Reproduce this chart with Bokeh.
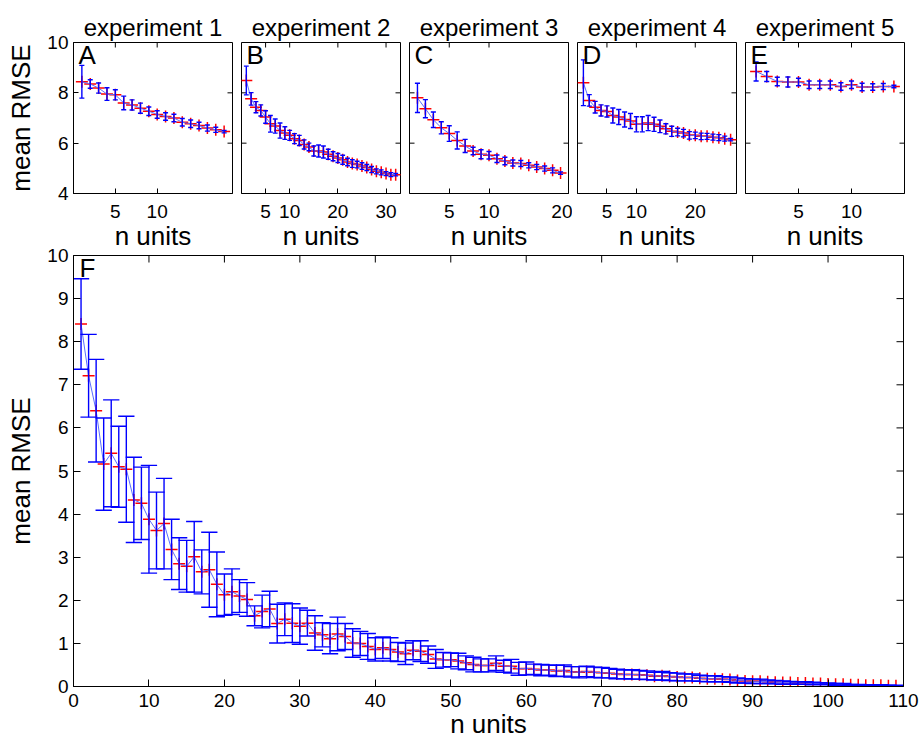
from math import pi
from bokeh.plotting import figure
from bokeh.models import Range1d, FixedTicker, Label, ColumnDataSource
from bokeh.layouts import column, row
from bokeh.embed import file_html
from bokeh.resources import INLINE

FONT = "Liberation Sans"

# ---- experiment 1 ----
exp1_mean = [8.44, 8.35, 8.19, 7.95, 7.92, 7.60, 7.52, 7.39, 7.27, 7.14, 7.06, 7.00,
             6.83, 6.77, 6.70, 6.60, 6.53, 6.46]
exp1_err = [0.65, 0.17, 0.20, 0.25, 0.20, 0.27, 0.20, 0.20, 0.17, 0.15, 0.15, 0.15,
            0.15, 0.15, 0.13, 0.12, 0.10, 0.05]

# ---- experiment 2 ----
exp2_mean = [8.49, 7.76, 7.43, 7.30, 7.04, 6.77, 6.68, 6.50, 6.40, 6.31, 6.18, 6.11,
             5.95, 5.85, 5.69, 5.69, 5.65, 5.56, 5.48, 5.41, 5.34, 5.25, 5.19, 5.15,
             5.09, 5.03, 4.95, 4.88, 4.84, 4.79, 4.75, 4.75]
exp2_err = [0.57, 0.25, 0.22, 0.22, 0.25, 0.33, 0.28, 0.30, 0.25, 0.20, 0.20, 0.20,
            0.18, 0.15, 0.20, 0.24, 0.24, 0.20, 0.18, 0.18, 0.18, 0.15, 0.15, 0.13,
            0.13, 0.12, 0.12, 0.10, 0.10, 0.08, 0.08, 0.05]

# ---- experiment 3 ----
exp3_mean = [7.80, 7.37, 6.93, 6.61, 6.38, 6.11, 5.89, 5.69, 5.56, 5.52, 5.38, 5.29,
             5.21, 5.19, 5.12, 5.05, 4.99, 4.92, 4.81]
exp3_err = [0.58, 0.36, 0.31, 0.24, 0.31, 0.34, 0.26, 0.15, 0.18, 0.15, 0.15, 0.15,
            0.12, 0.12, 0.10, 0.10, 0.10, 0.10, 0.05]

# ---- experiment 4 ----
exp4_mean = [8.40, 7.70, 7.43, 7.30, 7.26, 7.10, 7.04, 6.94, 6.88, 6.75, 6.75, 6.80,
             6.75, 6.67, 6.57, 6.47, 6.44, 6.40, 6.31, 6.31, 6.27, 6.27, 6.24, 6.22,
             6.18, 6.14]
exp4_err = [0.91, 0.23, 0.23, 0.22, 0.22, 0.30, 0.30, 0.30, 0.30, 0.30, 0.30, 0.30,
            0.28, 0.25, 0.20, 0.20, 0.15, 0.15, 0.15, 0.13, 0.13, 0.12, 0.12, 0.12,
            0.10, 0.05]

# ---- experiment 5 ----
exp5_mean = [8.85, 8.65, 8.45, 8.43, 8.43, 8.32, 8.32, 8.32, 8.25, 8.32, 8.23, 8.23,
             8.25, 8.25]
exp5_err = [0.38, 0.20, 0.17, 0.20, 0.15, 0.15, 0.15, 0.15, 0.15, 0.15, 0.15, 0.13,
            0.12, 0.05]

# ---- pooled (panel F) ----
pooled_mean = [8.41, 7.21, 6.40, 5.16, 5.41, 5.10, 5.04, 4.33, 4.25, 3.88,
               3.62, 3.78, 3.18, 2.85, 2.79, 3.01, 2.66, 2.71, 2.37, 2.13,
               2.20, 2.10, 2.02, 1.64, 1.74, 1.80, 1.46, 1.56, 1.47, 1.40,
               1.47, 1.24, 1.20, 1.11, 1.22, 1.16, 1.01, 1.00, 0.93, 0.86,
               0.90, 0.86, 0.80, 0.76, 0.84, 0.82, 0.74, 0.64, 0.62, 0.62,
               0.59, 0.55, 0.51, 0.49, 0.49, 0.54, 0.47, 0.47, 0.41, 0.42,
               0.40, 0.38, 0.38, 0.36, 0.37, 0.34, 0.33, 0.35, 0.33, 0.32,
               0.31, 0.29, 0.28, 0.28, 0.27, 0.26, 0.24, 0.25, 0.23, 0.22,
               0.21, 0.21, 0.19, 0.18, 0.18, 0.17, 0.16, 0.14, 0.13, 0.12,
               0.12, 0.11, 0.10, 0.09, 0.09, 0.08, 0.08, 0.07, 0.07, 0.06,
               0.05, 0.05, 0.04, 0.04, 0.03, 0.03, 0.03, 0.02, 0.02]
pooled_err = [1.05, 0.96, 1.19, 1.07, 1.24, 0.94, 1.23, 0.99, 0.84, 1.25,
              0.89, 1.05, 0.70, 0.60, 0.60, 0.82, 0.51, 0.87, 0.75, 0.48,
              0.53, 0.38, 0.39, 0.23, 0.38, 0.41, 0.45, 0.38, 0.45, 0.42,
              0.30, 0.40, 0.28, 0.35, 0.39, 0.30, 0.33, 0.28, 0.30, 0.27,
              0.25, 0.27, 0.22, 0.25, 0.22, 0.24, 0.20, 0.22, 0.17, 0.16,
              0.18, 0.16, 0.17, 0.15, 0.15, 0.17, 0.14, 0.16, 0.15, 0.15,
              0.12, 0.13, 0.12, 0.13, 0.13, 0.12, 0.13, 0.12, 0.12, 0.12,
              0.11, 0.11, 0.10, 0.11, 0.10, 0.10, 0.09, 0.10, 0.09, 0.09,
              0.08, 0.08, 0.07, 0.07, 0.07, 0.06, 0.06, 0.06, 0.05, 0.05,
              0.05, 0.04, 0.04, 0.04, 0.03, 0.03, 0.03, 0.03, 0.02, 0.02,
              0.02, 0.02, 0.01, 0.01, 0.01, 0.01, 0.01, 0.01, 0.01]

TOP_YTICKS = [4, 6, 8, 10]
POOLED_XTICKS = list(range(0, 111, 10))
POOLED_YTICKS = list(range(0, 11))

panels = [
    dict(title="experiment 1", letter="A", mean=exp1_mean, err=exp1_err, xmax=19, xticks=[5, 10], tee=0.30),
    dict(title="experiment 2", letter="B", mean=exp2_mean, err=exp2_err, xmax=33, xticks=[5, 10, 20, 30], tee=0.50),
    dict(title="experiment 3", letter="C", mean=exp3_mean, err=exp3_err, xmax=20, xticks=[5, 10, 20], tee=0.32),
    dict(title="experiment 4", letter="D", mean=exp4_mean, err=exp4_err, xmax=27, xticks=[5, 10, 20], tee=0.43),
    dict(title="experiment 5", letter="E", mean=exp5_mean, err=exp5_err, xmax=15, xticks=[5, 10], tee=0.24),
]

TICK_PX = 19
LABEL_PX = 26


def style_axes(p, xticks, yticks, xr, yr, tick_len, show_y, tick_standoff, label_standoff):
    ax = p.xaxis[0]
    ax.ticker = FixedTicker(ticks=xticks)
    ax.major_tick_in = tick_len
    ax.major_tick_out = 0
    ax.minor_tick_line_color = None
    ax.major_label_text_font = FONT
    ax.major_label_text_font_size = f"{TICK_PX}px"
    ax.major_label_text_color = "black"
    ax.major_label_standoff = tick_standoff
    ax.axis_label = "n units"
    ax.axis_label_text_font = FONT
    ax.axis_label_text_font_size = f"{LABEL_PX}px"
    ax.axis_label_text_font_style = "normal"
    ax.axis_label_text_color = "black"
    ax.axis_label_standoff = label_standoff
    ax.axis_line_color = "black"
    ay = p.yaxis[0]
    if show_y:
        ay.ticker = FixedTicker(ticks=yticks)
        ay.major_tick_in = tick_len
        ay.major_tick_out = 0
        ay.minor_tick_line_color = None
        ay.axis_line_color = "black"
        ay.major_label_text_font = FONT
        ay.major_label_text_font_size = f"{TICK_PX}px"
        ay.major_label_text_color = "black"
        ay.major_label_standoff = 5
        ay.axis_label = "mean RMSE"
        ay.axis_label_text_font = FONT
        ay.axis_label_text_font_size = f"{LABEL_PX}px"
        ay.axis_label_text_font_style = "normal"
        ay.axis_label_text_color = "black"
        ay.axis_label_standoff = 8
    else:
        ay.visible = False
        # inward ticks on the left edge without labels
        p.ray(x=[xr[0]] * len(yticks), y=yticks, length=tick_len, length_units="screen",
              angle=0, line_color="black", line_width=1)
    # inward ticks on the top and right edges, without labels
    p.ray(x=xticks, y=[yr[1]] * len(xticks), length=tick_len, length_units="screen",
          angle=-pi / 2, line_color="black", line_width=1)
    p.ray(x=[xr[1]] * len(yticks), y=yticks, length=tick_len, length_units="screen",
          angle=pi, line_color="black", line_width=1)


def draw_series(p, mean, err, tee):
    xs = list(range(1, len(mean) + 1))
    lo = [m - e for m, e in zip(mean, err)]
    hi = [m + e for m, e in zip(mean, err)]
    src = ColumnDataSource(dict(x=xs, mean=mean, lo=lo, hi=hi,
                                cl=[x - tee for x in xs], cr=[x + tee for x in xs]))
    p.scatter("x", "mean", source=src, marker="cross", size=12, line_color="red", line_width=1.5)
    p.line("x", "mean", source=src, line_color="#5a6cff", line_width=1)
    p.segment(x0="x", y0="lo", x1="x", y1="hi", source=src, line_color="blue", line_width=1.4)
    p.segment(x0="cl", y0="hi", x1="cr", y1="hi", source=src, line_color="blue", line_width=1.4)
    p.segment(x0="cl", y0="lo", x1="cr", y1="lo", source=src, line_color="blue", line_width=1.4)


def add_letter(p, letter, xmin, ymax, dx, dy):
    p.add_layout(Label(x=xmin, y=ymax, x_offset=dx, y_offset=dy, text=letter,
                       text_font=FONT, text_font_size="26px", text_baseline="top",
                       text_align="left", text_color="black"))


TOP_BORDER = 42
TOP_FRAME_H = 151
TOP_BOTTOM = 62
TOP_H = TOP_BORDER + TOP_FRAME_H + TOP_BOTTOM
top_figs = []
for i, pan in enumerate(panels):
    first = i == 0
    last = i == len(panels) - 1
    left = 73 if first else 5
    right = 18 if last else 4
    xr = (0, pan["xmax"])
    yr = (4, 10)
    p = figure(width=left + 159 + right, height=TOP_H,
               x_range=Range1d(*xr), y_range=Range1d(*yr),
               output_backend="svg", toolbar_location=None,
               min_border_left=left, min_border_right=right,
               min_border_top=TOP_BORDER, min_border_bottom=TOP_BOTTOM,
               title=pan["title"])
    p.title.text_font = FONT
    p.title.text_font_size = "24px"
    p.title.text_font_style = "normal"
    p.title.text_color = "black"
    p.title.align = "center"
    p.title.standoff = 4
    p.grid.visible = False
    p.outline_line_color = "black"
    style_axes(p, pan["xticks"], TOP_YTICKS, xr, yr, 5, first, 11, 0)
    draw_series(p, pan["mean"], pan["err"], pan["tee"])
    add_letter(p, pan["letter"], xr[0], yr[1], 5, 3)
    top_figs.append(p)

# the pooled panel overlaps the lower margin of the top row (transparent border)
F_CANVAS_TOP = 243
F_TOP = 255 - F_CANVAS_TOP
F_H = 742 - F_CANVAS_TOP
fxr = (0, 110)
fyr = (0, 10)
pf = figure(width=922, height=F_H, x_range=Range1d(*fxr), y_range=Range1d(*fyr),
            output_backend="svg", toolbar_location=None,
            min_border_left=73, min_border_right=19, min_border_top=F_TOP,
            min_border_bottom=F_H - F_TOP - 431,
            margin=(F_CANVAS_TOP - TOP_H, 0, 0, 0))
pf.border_fill_color = None
pf.background_fill_color = "white"
pf.grid.visible = False
pf.outline_line_color = "black"
style_axes(pf, POOLED_XTICKS, POOLED_YTICKS, fxr, fyr, 7, True, 7, -1)
draw_series(pf, pooled_mean, pooled_err, 1.08)
add_letter(pf, "F", fxr[0], fyr[1], 6, 3)

layout = column(row(*top_figs, spacing=0), pf, spacing=0)
open("out.html", "w").write(file_html(layout, INLINE))
